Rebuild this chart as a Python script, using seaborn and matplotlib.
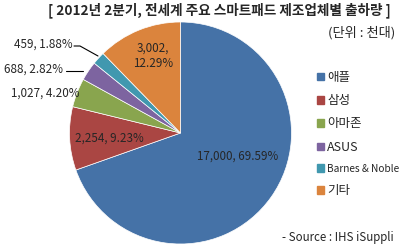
import matplotlib
matplotlib.use("Agg")
import matplotlib.pyplot as plt
import matplotlib.patches as mpatches
import seaborn as sns

# 데이터 (단위: 천대)
companies = ["애플", "삼성", "아마존", "ASUS", "Barnes & Noble", "기타"]
shipments = [17000, 2254, 1027, 688, 459, 3002]
shares = [69.59, 9.23, 4.20, 2.82, 1.88, 12.29]
colors = ["#4572A7", "#AA4643", "#89A54E", "#7D64A0", "#4198AF", "#DB843D"]

sns.set_theme(style="white")
plt.rcParams['font.family'] = ['Noto Sans CJK KR', 'DejaVu Sans']

W, H = 407, 249
fig = plt.figure(figsize=(W / 100, H / 100), dpi=100)

# 파이 영역 (픽셀 기준: 중심 180.5,133 / 반지름 111)
cx, cy, r = 180.5, 133, 111
ax = fig.add_axes([(cx - r) / W, (H - cy - r) / H, 2 * r / W, 2 * r / H])
palette = sns.color_palette(colors)
wedges, _ = ax.pie(shipments, colors=palette, startangle=90, counterclock=False,
                   wedgeprops=dict(edgecolor="white", linewidth=0.5))
ax.set_xlim(-1, 1)
ax.set_ylim(-1, 1)
ax.set_aspect("auto")
ax.axis("off")


def px(x, y):
    return x / W, 1 - y / H


lab_fs = 8.4
labels = [f"{v:,}, {s:.2f}%" for v, s in zip(shipments, shares)]
fig.text(*px(238, 156), labels[0], ha="center", va="center", fontsize=lab_fs)
fig.text(*px(109, 138), labels[1], ha="center", va="center", fontsize=lab_fs)
fig.text(*px(45, 93), labels[2], ha="center", va="center", fontsize=lab_fs)
fig.text(*px(34, 69), labels[3], ha="center", va="center", fontsize=lab_fs)
fig.text(*px(43, 44), labels[4], ha="center", va="center", fontsize=lab_fs)
fig.text(*px(153, 56), f"{shipments[5]:,},\n{shares[5]:.2f}%", ha="center", va="center",
         fontsize=lab_fs, linespacing=1.25)

# 지시선
fig.add_artist(plt.Line2D([66 / W, 83 / W], [1 - 71 / H, 1 - 71 / H], color="black", lw=0.8))
fig.add_artist(plt.Line2D([74 / W, 80 / W, 98 / W], [1 - 46 / H, 1 - 46 / H, 1 - 56 / H],
                          color="black", lw=0.8))

# 제목
fig.text(*px(219.5, 10), "[ 2012년 2분기, 전세계 주요 스마트패드 제조업체별 출하량 ]",
         ha="center", va="center", fontsize=9.8, fontweight="bold")
fig.text(*px(395, 33), "(단위 : 천대)", ha="right", va="center", fontsize=9.5)

# 범례
handles = [mpatches.Patch(color=c, label=n) for c, n in zip(palette, companies)]
leg = fig.legend(handles=handles, loc="upper left", bbox_to_anchor=px(317, 71), frameon=False,
                 fontsize=9, handlelength=0.55, handleheight=0.55, handletextpad=0.25,
                 labelspacing=0.82, borderpad=0, borderaxespad=0)
leg.get_texts()[4].set_fontsize(7.3)

fig.text(*px(282, 237), "- Source : IHS iSuppli", ha="left", va="center", fontsize=8.3)

fig.savefig("out.png", dpi=100)
